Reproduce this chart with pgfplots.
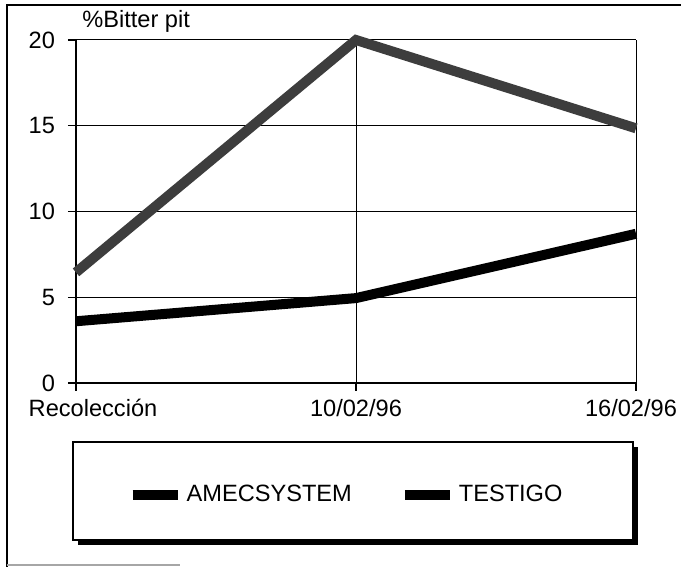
\documentclass[border=0pt]{standalone}
\usepackage{fontspec}
\setmainfont{Liberation Sans}
\usepackage{pgfplots}
\pgfplotsset{compat=1.18}
\begin{document}
\begin{tikzpicture}
\path[use as bounding box] (-38pt,-92pt) rectangle (302.5pt,191.5pt);
% outer frame (scanned page border)
\draw[line width=0.9pt] (-34.5pt,-92pt) -- (-34.5pt,189pt) -- (302.5pt,189pt);
\draw[line width=0.6pt, black!35] (-34.5pt,-91pt) -- (52pt,-91pt);
% legend box with shadow
\fill[black] (1pt,-32pt) rectangle (281pt,-81pt);
\draw[line width=0.7pt, fill=white] (-1.5pt,-29.5pt) rectangle (278.5pt,-78.5pt);
\begin{axis}[
  at={(0pt,0pt)}, anchor=origin,
  scale only axis, width=280pt, height=171.5pt,
  xmin=0, xmax=2, ymin=0, ymax=20,
  xtick={0,1,2},
  xticklabels={\hspace*{17pt}Recolección, 10/02/96, 16/02/96\hspace*{5pt}},
  ytick={0,5,10,15,20},
  grid=major,
  major grid style={black, line width=0.5pt},
  axis line style={black, line width=0.6pt},
  tick style={black, line width=0.6pt},
  tick align=outside,
  major tick length=4pt,
  axis x line*=bottom, axis y line*=left,
  ticklabel style={font=\fontsize{11.8}{13}\selectfont},
  /pgf/number format/assume math mode=true,
  yticklabel style={xshift=-3pt},
  xticklabel style={yshift=-0.5pt},
  clip=false,
  legend columns=2,
  legend style={draw=none, fill=none, at={(0.484,-0.3265)}, anchor=center,
    font=\fontsize{11.8}{13}\selectfont, /tikz/every even column/.append style={column sep=22pt}},
  legend image code/.code={\draw[black, line width=5pt] (0pt,0pt) -- (22.5pt,0pt);},
]
\addplot[black, line width=5pt] coordinates {(0,3.6) (1,4.95) (2,8.7)};
\addlegendentry{AMECSYSTEM}
\addplot[black!76, line width=5pt] coordinates {(0,6.45) (1,20.0) (2,14.85)};
\addlegendentry{TESTIGO}
\node[anchor=south west, inner sep=0pt, font=\fontsize{11.8}{13}\selectfont] at (rel axis cs:0,1) [xshift=3pt, yshift=3.5pt] {\%Bitter pit};
\end{axis}
\end{tikzpicture}
\end{document}
